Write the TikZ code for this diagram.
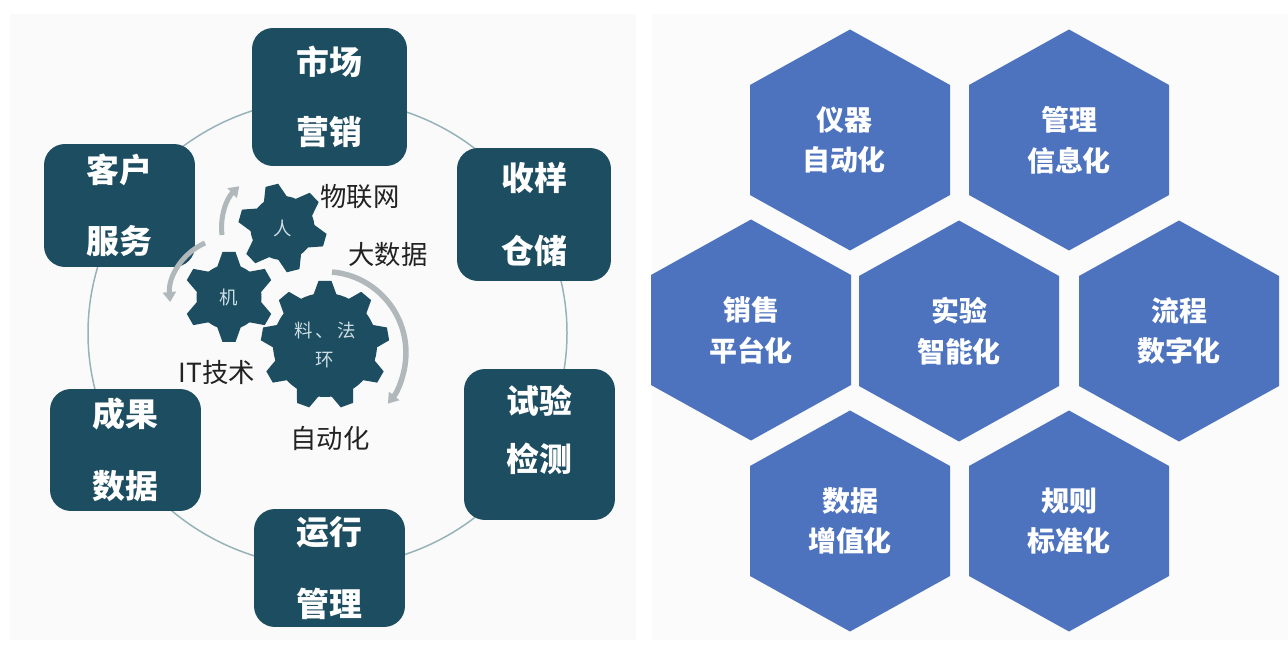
\documentclass[tikz,border=0pt]{standalone}
\usepackage{fontspec}
\setmainfont{Noto Sans CJK SC}
\usetikzlibrary{arrows.meta}

% one hexagon with its label, in picture units
\newcommand{\hexcell}[5][]{
  \fill[hexfill] (#3,#4-110.5) -- (#3+100,#4-55) -- (#3+100,#4+55) -- (#3,#4+110.5) -- (#3-100,#4+55) -- (#3-100,#4-55) -- cycle;
  \node[hexlabel,#1] (#2) at (#3,#4) {#5};
}
% one gear: name, x, y, inner radius, outer radius, teeth, first angle
\newcommand{\gearwheel}[7]{
  \coordinate (#1) at (#2,#3);
  \fill[gearfill] (#1) circle [radius=#4];
  \foreach \k in {1,...,#6} {
    \fill[gearfill,shift={(#1)},rotate=#7+\k*360/#6] (#4-3,-12) -- (#5,-6.5) -- (#5,6.5) -- (#4-3,12) -- cycle;
  }
}

\begin{document}
\begin{tikzpicture}[x=0.02cm,y=-0.02cm]
    \tikzstyle{hexfill}=[fill={rgb,255:red,78;green,115;blue,190}]
    \tikzstyle{hexlabel}=[text=white,align=center,font=\fontsize{15.9}{23.2}\selectfont\bfseries,inner sep=0pt]
    \tikzstyle{gearfill}=[fill={rgb,255:red,29;green,77;blue,96}]
    \tikzstyle{gearlabel}=[text={rgb,255:red,205;green,222;blue,228},align=center,font=\fontsize{10.5}{17}\selectfont,inner sep=0pt]
    \tikzstyle{stagebox}=[fill={rgb,255:red,29;green,77;blue,96},text=white,rounded corners=0.42cm,align=center,font=\fontsize{18.7}{18.7}\selectfont\bfseries,inner sep=0pt]
    \tikzstyle{toollabel}=[text={rgb,255:red,34;green,34;blue,34},font=\fontsize{15}{15}\selectfont,inner sep=0pt]
    \tikzstyle{turnarrow}=[draw={rgb,255:red,176;green,184;blue,188},line width=1mm,-{Triangle[length=2mm,width=2.6mm]}]
    \useasboundingbox (0,0) rectangle (1288,648);
    \fill[fill={rgb,255:red,250;green,250;blue,250}] (10,14) rectangle (636,640);
    \fill[fill={rgb,255:red,251;green,251;blue,251}] (652,14) rectangle (1288,640);

    % ring behind the six stages
    \coordinate (ringcentre) at (327.5,333);
    \draw[draw={rgb,255:red,150;green,180;blue,184},line width=0.3mm] (ringcentre) ellipse [x radius=239.5,y radius=234];

    \node[stagebox,minimum width=3.1cm,minimum height=2.76cm] (market) at (329.5,97) {市场\\[21pt]营销};
    \node[stagebox,minimum width=3.08cm,minimum height=2.66cm] (sample) at (534,214.5) {收样\\[22.7pt]仓储};
    \node[stagebox,minimum width=3.02cm,minimum height=3.02cm] (test) at (539.5,444.5) {试验\\[14.5pt]检测\\[0pt]\mbox{}};
    \node[stagebox,minimum width=3.02cm,minimum height=2.36cm] (operate) at (329.5,568) {运行\\[22pt]管理};
    \node[stagebox,minimum width=3.02cm,minimum height=2.44cm] (result) at (125.5,450) {成果\\[22pt]数据};
    \node[stagebox,minimum width=3.02cm,minimum height=2.46cm] (customer) at (119.5,205.5) {客户\\[22pt]服务};

    % three gears
    \gearwheel{geara}{282.5}{228}{32}{44}{6}{104}
    \gearwheel{gearb}{229}{297}{32.5}{45}{6}{90}
    \gearwheel{gearc}{325}{345}{52}{64}{9}{90}
    \node[gearlabel] (person) at (geara) {人};
    \node[gearlabel] (machine) at (gearb) {机};
    \node[gearlabel] (material) at (gearc) {料\,、\,法\\环};

    % turning arrows
    \coordinate (turnc) at (332,272);
    \coordinate (turnb) at (205,243);
    \coordinate (turna) at (222,235);
    \draw[turnarrow,line width=1.1mm] (turnc) arc [start angle=-85,end angle=39,radius=81];
    \draw[turnarrow] (turnb) arc [start angle=-114,end angle=-185,radius=59];
    \draw[turnarrow] (turna) arc [start angle=173,end angle=226,radius=58];

    \node[toollabel] (iot) at (360,197) {物联网};
    \node[toollabel] (bigdata) at (388,255) {大数据};
    \node[toollabel] (ittech) at (217,372) {IT技术};
    \node[toollabel] (auto) at (330,438) {自动化};

    % right panel
    \hexcell[xshift=-0.12cm]{instrument}{850}{140}{仪器\\自动化}
    \hexcell{manage}{1069}{140}{管理\\信息化}
    \hexcell{sales}{751}{330}{销售\\平台化}
    \hexcell{lab}{959}{331}{实验\\智能化}
    \hexcell{process}{1179}{331}{流程\\数字化}
    \hexcell{data}{850}{521}{数据\\增值化}
    \hexcell{rules}{1069}{521}{规则\\标准化}
\end{tikzpicture}
\end{document}
